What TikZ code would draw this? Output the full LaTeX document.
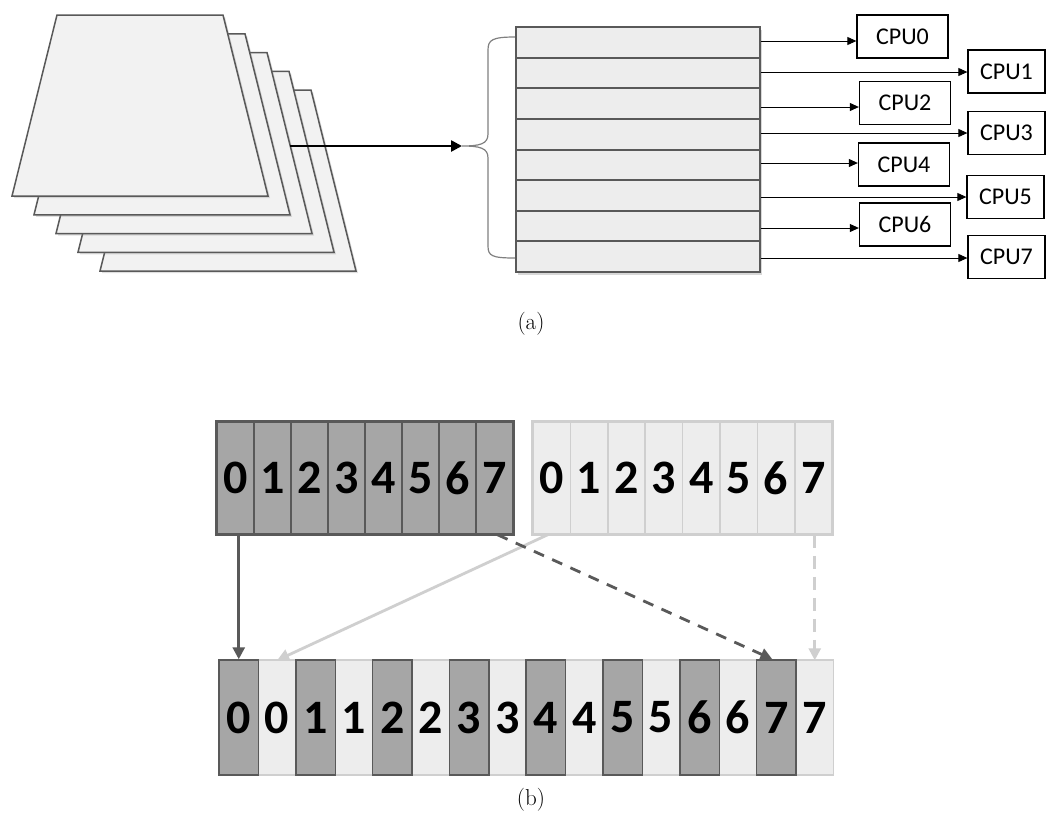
\documentclass[tikz,border=0pt]{standalone}
\usepackage{fontspec}
\newfontfamily\calfont{Carlito}
\usetikzlibrary{arrows.meta,shadows,calc}
\definecolor{dgray}{HTML}{595959}
\definecolor{mgray}{HTML}{A6A6A6}
\definecolor{lgray}{HTML}{EDEDED}
\definecolor{lline}{HTML}{CFCFCF}
\definecolor{paper}{HTML}{F2F2F2}
\definecolor{brgray}{HTML}{808080}
\tikzset{
  layer/.style={fill=paper, draw=dgray, line width=1.5pt, line join=miter,
    drop shadow={opacity=0.25, shadow xshift=2pt, shadow yshift=-2pt}},
  tablebox/.style={rectangle, fill=lgray, draw=dgray, line width=2.5pt, inner sep=0pt,
    minimum width=244pt, minimum height=245pt,
    drop shadow={opacity=0.3, shadow xshift=2pt, shadow yshift=-3pt}},
  rowline/.style={draw=dgray, line width=2pt},
  cpu/.style={rectangle, draw=black, line width=1.3pt, fill=white, inner sep=0pt,
    minimum width=91pt, minimum height=43pt, font=\calfont\fontsize{24}{26}\selectfont},
  cpuR/.style={cpu, minimum width=77pt},
  thinarrow/.style={draw=black, line width=0.9pt, -{Triangle[length=9pt,width=8pt]}},
  bigarrow/.style={draw=black, line width=2.5pt, -{Triangle[length=11pt,width=11pt]}},
  bracepath/.style={draw=brgray, line width=1.2pt},
  dcell/.style={rectangle, fill=mgray, draw=dgray, line width=1.5pt, inner sep=0pt,
    minimum height=112pt, font=\calfont\bfseries\fontsize{48}{50}\selectfont},
  lcell/.style={rectangle, fill=lgray, draw=lline, line width=1.5pt, inner sep=0pt,
    minimum height=112pt, font=\calfont\bfseries\fontsize{48}{50}\selectfont},
  darr/.style={draw=dgray, line width=2.8pt, -{Triangle[length=12pt,width=12pt]}},
  larr/.style={draw=lline, line width=2.8pt, -{Triangle[length=12pt,width=12pt]}},
  caption/.style={font=\fontsize{23}{26}\selectfont}
}
\begin{document}
\begin{tikzpicture}[x=1pt,y=-1pt]
\useasboundingbox[fill=white] (0,0) rectangle (1046,830);

% ---------- (a) stacked pages ----------
\foreach \i in {4,3,2,1,0} {
  \draw[layer] ({57+22*\i},{15+18.75*\i}) -- ({223+22*\i},{15+18.75*\i})
    -- ({268+22*\i},{196+18.75*\i}) -- ({12+22*\i},{196+18.75*\i}) -- cycle;
}

% brace
\coordinate (brtip) at (462,146);
\draw[bracepath] (515,37) .. controls (492,37) and (488,40) .. (488,50) -- (488,134)
  .. controls (488,144) and (480,146) .. (brtip)
  .. controls (480,146) and (488,148) .. (488,158) -- (488,246)
  .. controls (488,256) and (492,258) .. (515,258);

% main arrow
\coordinate (src) at (290,146);
\draw[bigarrow] (src) -- (brtip);

% table
\node[tablebox] (tbl) at (638,149.5) {};
\foreach \k in {1,...,7} {
  \draw[rowline] (516,{27+30.625*\k}) -- (760,{27+30.625*\k});
}

% CPUs
\node[cpu] (cpu0) at (902.5,36.5) {CPU0};
\node[cpu] (cpu2) at (905,103) {CPU2};
\node[cpu] (cpu4) at (904,164.5) {CPU4};
\node[cpu] (cpu6) at (905,224.5) {CPU6};
\node[cpuR] (cpu1) at (1006.5,71.5) {CPU1};
\node[cpuR] (cpu3) at (1006.5,133) {CPU3};
\node[cpuR] (cpu5) at (1005.5,197) {CPU5};
\node[cpuR] (cpu7) at (1006.5,257) {CPU7};

\foreach \n/\y in {0/41,1/72,2/107,3/133,4/163,5/197,6/228,7/258} {
  \coordinate (r\n) at (tbl.east |- 0,\y);
  \draw[thinarrow] (r\n) -- (r\n -| cpu\n.west);
}

\node[caption] (capa) at (531,324) {(a)};

% ---------- (b) ----------
\foreach \k in {0,...,7} {
  \node[dcell, minimum width=37pt] (dk\k) at ({217+37*\k+18.5},478) {\k};
  \node[lcell, minimum width=37.4pt] (lt\k) at ({533+37.4*\k+18.7},478) {\k};
}
\draw[dgray, line width=2.5pt] (dk0.north west) rectangle (dk7.south east);
\draw[lline, line width=2.5pt] (lt0.north west) rectangle (lt7.south east);

% bottom row
\draw[fill=lgray, draw=lline, line width=2pt] (219,660) rectangle (833,775);
\foreach \k in {0,...,7} {
  \pgfmathtruncatemacro\da{2*\k}
  \pgfmathtruncatemacro\lb{2*\k+1}
  \node[lcell, draw=none, minimum width=37.3pt, minimum height=113pt] (b\lb) at ({219+76.8*\k+39.5+18.65},717.5) {\k};
  \node[dcell, minimum width=39.5pt, minimum height=115pt] (b\da) at ({219+76.8*\k+19.75},717.5) {\k};
}

% arrows
\draw[darr] (b0.north |- dk0.south) -- (b0.north);
\draw[larr] ($(lt0.south)+(-4,0)$) -- (b1.north);
\draw[darr, dash pattern=on 11pt off 9pt] ($(dk7.south)+(3,0)$) -- ($(b14.north)+(-4,0)$);
\draw[larr, dash pattern=on 13pt off 8pt] (b15.north |- lt7.south) -- (b15.north);

\node[caption] (capb) at (531,800) {(b)};
\end{tikzpicture}
\end{document}
